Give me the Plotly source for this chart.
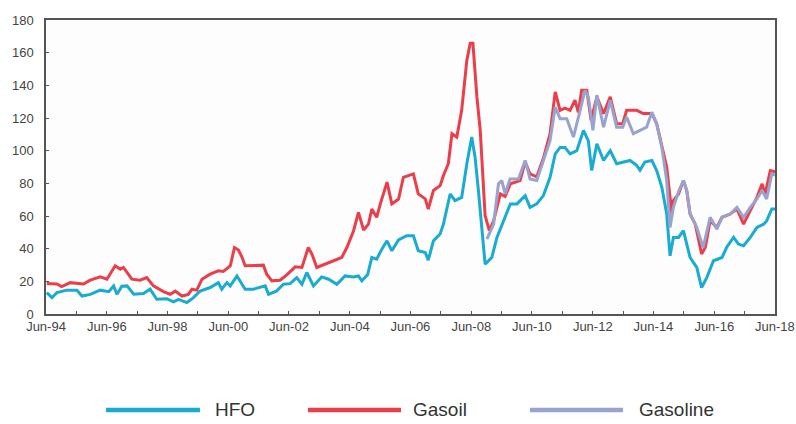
import datetime as dt
import plotly.graph_objects as go

# ---- data (decimal year, value) ----
hfo_t = [1994.44, 1994.61, 1994.77, 1995.10, 1995.43, 1995.60, 1995.87, 1996.20, 1996.48, 1996.64,
         1996.75, 1996.91, 1997.08, 1997.30, 1997.62, 1997.84, 1998.06, 1998.39, 1998.61, 1998.78,
         1999.05, 1999.27, 1999.49, 1999.82, 2000.09, 2000.20, 2000.37, 2000.48, 2000.70, 2000.97,
         2001.24, 2001.40, 2001.63, 2001.74, 2002.00, 2002.23, 2002.45, 2002.67, 2002.84, 2003.00,
         2003.22, 2003.49, 2003.72, 2003.99, 2004.26, 2004.54, 2004.70, 2004.81, 2005.00, 2005.14,
         2005.30, 2005.47, 2005.64, 2005.80, 2006.02, 2006.29, 2006.51, 2006.67, 2006.90, 2007.00,
         2007.17, 2007.39, 2007.50, 2007.72, 2007.88, 2008.10, 2008.27, 2008.43, 2008.54, 2008.65,
         2008.76, 2008.87, 2009.09, 2009.26, 2009.48, 2009.70, 2009.92, 2010.19, 2010.35, 2010.57,
         2010.79, 2011.01, 2011.18, 2011.34, 2011.50, 2011.67, 2011.89, 2012.11, 2012.27, 2012.38,
         2012.55, 2012.77, 2012.99, 2013.20, 2013.64, 2013.86, 2013.97, 2014.13, 2014.36, 2014.52,
         2014.69, 2014.85, 2014.96, 2015.07, 2015.24, 2015.40, 2015.62, 2015.84, 2016.00, 2016.17,
         2016.39, 2016.67, 2016.82, 2017.05, 2017.21, 2017.38, 2017.60, 2017.82, 2018.04, 2018.14,
         2018.31, 2018.42]
hfo_v = [13.1, 10.0, 13.1, 14.6, 14.6, 11.0, 12.0, 14.6, 13.7, 17.2,
         12.1, 17.0, 17.2, 12.1, 12.5, 15.2, 9.0, 9.4, 7.4, 9.0,
         7.0, 10.0, 14.1, 16.2, 19.2, 15.2, 19.2, 17.2, 23.3, 15.2,
         15.2, 16.2, 17.2, 12.1, 14.0, 18.2, 18.6, 22.3, 18.2, 25.4,
         17.2, 22.7, 21.3, 18.2, 23.3, 22.7, 23.3, 20.3, 24.0, 34.6,
         33.6, 39.7, 44.8, 38.7, 45.3, 47.9, 47.9, 38.7, 37.7, 33.0,
         44.8, 49.0, 55.0, 73.5, 69.4, 71.4, 92.0, 108.3, 96.0, 75.6,
         51.0, 30.5, 34.6, 46.9, 57.1, 67.4, 67.4, 72.5, 65.3, 67.4,
         72.5, 83.7, 98.0, 102.0, 102.0, 98.0, 100.0, 112.4, 106.0, 87.8,
         104.2, 94.0, 100.0, 92.0, 94.0, 91.0, 88.0, 93.0, 94.0, 87.8,
         77.6, 61.2, 35.6, 46.9, 46.9, 51.0, 34.6, 28.5, 16.2, 22.3,
         32.6, 34.6, 40.7, 46.9, 42.8, 41.8, 46.9, 53.0, 55.0, 57.0,
         64.3, 64.3]

gasoil_t = [1994.44, 1994.77, 1994.93, 1995.21, 1995.65, 1995.87, 1996.20, 1996.42, 1996.69, 1996.86,
            1996.96, 1997.24, 1997.51, 1997.73, 1997.95, 1998.28, 1998.50, 1998.67, 1998.89, 1999.10,
            1999.22, 1999.38, 1999.55, 1999.82, 2000.09, 2000.25, 2000.48, 2000.62, 2000.75, 2000.86,
            2000.97, 2001.24, 2001.57, 2001.68, 2001.85, 2002.12, 2002.34, 2002.62, 2002.84, 2003.05,
            2003.17, 2003.33, 2003.60, 2003.83, 2003.99, 2004.15, 2004.32, 2004.54, 2004.70, 2004.87,
            2005.03, 2005.14, 2005.30, 2005.42, 2005.64, 2005.80, 2006.02, 2006.18, 2006.51, 2006.67,
            2006.90, 2007.00, 2007.17, 2007.39, 2007.50, 2007.66, 2007.78, 2007.94, 2008.10, 2008.27,
            2008.38, 2008.47, 2008.60, 2008.71, 2008.87, 2009.01, 2009.15, 2009.37, 2009.53, 2009.70,
            2010.02, 2010.19, 2010.35, 2010.57, 2010.80, 2011.01, 2011.18, 2011.34, 2011.50, 2011.67,
            2011.83, 2011.94, 2012.05, 2012.22, 2012.36, 2012.55, 2012.77, 2012.99, 2013.20, 2013.40,
            2013.53, 2013.86, 2014.08, 2014.36, 2014.52, 2014.69, 2014.85, 2014.96, 2015.02, 2015.07,
            2015.24, 2015.40, 2015.51, 2015.62, 2015.79, 2016.00, 2016.12, 2016.28, 2016.50, 2016.67,
            2016.94, 2017.16, 2017.38, 2017.60, 2017.82, 2017.99, 2018.09, 2018.26, 2018.42]
gasoil_v = [18.6, 18.4, 16.8, 19.2, 18.4, 20.7, 22.7, 21.3, 29.5, 27.4,
            28.5, 21.3, 20.7, 22.3, 17.2, 13.7, 12.1, 14.0, 11.0, 12.0,
            15.2, 14.6, 21.3, 24.4, 26.4, 26.0, 29.5, 40.7, 39.2, 35.0,
            29.5, 29.5, 29.9, 24.4, 20.3, 20.7, 24.0, 28.9, 28.5, 40.7,
            36.7, 28.5, 30.5, 32.1, 33.0, 34.6, 40.7, 51.0, 62.2, 51.4,
            55.0, 64.3, 59.2, 67.4, 80.7, 67.4, 70.4, 83.7, 85.8, 73.5,
            70.5, 64.3, 75.6, 78.6, 84.8, 92.0, 110.4, 108.3, 124.7, 155.4,
            165.7, 165.7, 132.9, 112.4, 60.2, 51.0, 57.1, 73.5, 72.0, 79.7,
            81.7, 93.0, 85.8, 84.0, 96.0, 110.4, 136.0, 124.7, 126.0, 124.7,
            131.0, 123.5, 137.0, 137.0, 118.6, 133.0, 122.7, 133.0, 116.5, 116.5,
            124.7, 124.7, 122.7, 122.7, 116.5, 102.0, 90.0, 71.4, 61.2, 69.4,
            73.5, 81.7, 75.6, 61.2, 55.0, 36.7, 40.7, 57.1, 53.0, 59.2,
            61.2, 64.3, 55.0, 63.3, 71.4, 79.7, 73.5, 87.8, 87.0]

gasoline_t = [2008.93, 2009.15, 2009.31, 2009.42, 2009.53, 2009.69, 2009.97, 2010.19, 2010.35, 2010.57,
              2010.79, 2011.01, 2011.18, 2011.34, 2011.56, 2011.78, 2012.00, 2012.16, 2012.27, 2012.42,
              2012.55, 2012.77, 2012.99, 2013.20, 2013.40, 2013.53, 2013.75, 2013.97, 2014.19, 2014.36,
              2014.52, 2014.69, 2014.85, 2014.96, 2015.07, 2015.24, 2015.40, 2015.51, 2015.62, 2015.84,
              2016.05, 2016.28, 2016.50, 2016.67, 2016.94, 2017.16, 2017.38, 2017.60, 2017.82, 2017.99,
              2018.14, 2018.31, 2018.42]
gasoline_v = [45.9, 55.0, 79.7, 81.7, 73.5, 82.7, 82.7, 94.0, 82.7, 81.7,
              94.0, 106.3, 126.7, 119.6, 119.6, 108.3, 124.7, 137.0, 133.0, 112.4,
              134.0, 114.4, 130.8, 114.4, 114.4, 120.6, 110.4, 112.4, 114.4, 123.6,
              116.5, 102.0, 81.7, 53.0, 65.3, 75.0, 81.7, 75.6, 61.2, 53.0,
              40.7, 59.2, 52.0, 59.2, 61.2, 65.3, 59.2, 65.3, 70.4, 75.6,
              70.4, 85.8, 85.0]

tick_years = list(range(1994, 2019))
tick_labels = [f"Jun-{y % 100:02d}" if (y - 1994) % 2 == 0 else "" for y in tick_years]
y_ticks = list(range(0, 181, 20))

series_names = ["HFO", "Gasoil", "Gasoline"]
series_colors = ["#19acd0", "#ea3f4a", "#98a3d0"]


def to_date(t):
    year = int(t)
    start = dt.datetime(year, 1, 1)
    days = (dt.datetime(year + 1, 1, 1) - start).days
    return start + dt.timedelta(days=(t - year) * days)


fig = go.Figure()
for name, ts, vs, col in zip(series_names,
                             [hfo_t, gasoil_t, gasoline_t],
                             [hfo_v, gasoil_v, gasoline_v],
                             series_colors):
    fig.add_trace(go.Scatter(x=[to_date(t) for t in ts], y=vs, mode="lines", name=name,
                             line=dict(color=col, width=3), showlegend=False))

font_family = "Liberation Sans Narrow, Arial Narrow, Liberation Sans, Arial"
tick_font = dict(family=font_family, size=13, color="#444")

fig.update_xaxes(
    range=[dt.datetime(1994, 6, 1), dt.datetime(2018, 6, 1, 12)],
    tickmode="array",
    tickvals=[dt.datetime(y, 6, 1) for y in tick_years],
    ticktext=tick_labels,
    ticks="inside", ticklen=3, tickcolor="#555",
    showgrid=False, zeroline=False,
    showline=True, linecolor="#555", linewidth=1.5, mirror=True,
    tickfont=tick_font, automargin=False, ticklabeloverflow="allow",
)
fig.update_yaxes(
    range=[0, 180],
    tickmode="array", tickvals=y_ticks,
    ticks="inside", ticklen=3, tickcolor="#555",
    showgrid=False, zeroline=False,
    showline=True, linecolor="#555", linewidth=1.5, mirror=True,
    tickfont=tick_font, automargin=False, ticklabelstandoff=8,
)

# custom legend (long line samples like the reference)
legend_y = -0.3265
legend_lines = [(0.0823, 0.2112), (0.3594, 0.4870), (0.6639, 0.7915)]
legend_text_x = [0.2291, 0.5007, 0.8107]
for (x0, x1), tx, name, col in zip(legend_lines, legend_text_x, series_names, series_colors):
    fig.add_shape(type="line", xref="paper", yref="paper", x0=x0, x1=x1, y0=legend_y, y1=legend_y,
                  line=dict(color=col, width=4.5))
    fig.add_annotation(xref="paper", yref="paper", x=tx, y=legend_y, text=name, showarrow=False,
                       xanchor="left", yanchor="middle",
                       font=dict(family=font_family, size=19, color="#333"))

fig.update_layout(
    width=796, height=424,
    margin=dict(l=46, r=21, t=20, b=110),
    paper_bgcolor="white",
    plot_bgcolor="#fdfdfd",
    showlegend=False,
)

fig.write_html("out.html", config={"displayModeBar": False},
               post_script="document.body.style.margin='0';")
